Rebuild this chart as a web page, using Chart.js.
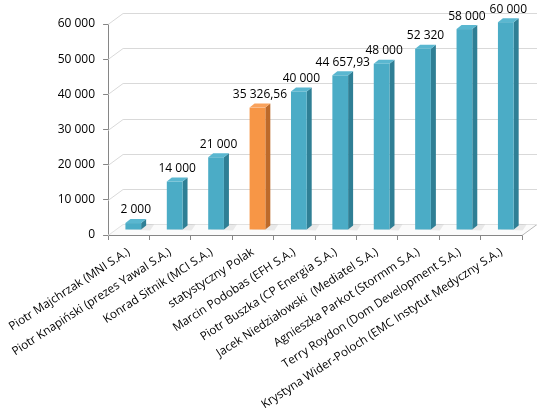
<!DOCTYPE html>
<html>
<head>
<meta charset="utf-8">
<script src="https://cdn.jsdelivr.net/npm/chart.js@4.4.1/dist/chart.umd.min.js"></script>
<style>
  html, body { margin: 0; padding: 0; background: #fff; }
</style>
</head>
<body>
<canvas id="myChart" width="542" height="416"></canvas>
<script>
var categories = [
    'Piotr Majchrzak (MNI S.A.)',
    'Piotr Knapiński (prezes Yawal S.A.)',
    'Konrad Sitnik (MCI S.A.)',
    'statystyczny Polak',
    'Marcin Podobas (EFH S.A.)',
    'Piotr Buszka (CP Energia S.A.)',
    'Jacek Niedziałowski  (Mediatel S.A.)',
    'Agnieszka Parkot (Stormm S.A.)',
    'Terry Roydon (Dom Development S.A.)',
    'Krystyna Wider-Poloch (EMC Instytut Medyczny S.A.)'
];
var salaries = [2000, 14000, 21000, 35326.56, 40000, 44657.93, 48000, 52320, 58000, 60000];
var highlighted = [false, false, false, true, false, false, false, false, false, false];
var yTicks = [0, 10000, 20000, 30000, 40000, 50000, 60000];

// polish style number: "35 326,56"
function fmt(v) {
    var parts = (Math.round(v * 100) / 100).toString().split('.');
    var intPart = parts[0].replace(/\B(?=(\d{3})+(?!\d))/g, ' ');
    return parts[1] ? intPart + ',' + (parts[1] + '0').slice(0, 2) : intPart;
}

var DEPTH_X = 15, DEPTH_Y = -11;   // back wall offset
var SHIFT_X = 4.5, SHIFT_Y = -5;   // bars stand mid-floor
var SIDE_X = 5, SIDE_Y = -4;       // bar depth

var blue = { front: '#4bacc6', side: '#2f7f95', top: '#5ab7d0' };
var orange = { front: '#f79646', side: '#bd6a2a', top: '#f9a25c' };

var wallPlugin = {
    id: 'wall',
    beforeDatasetsDraw: function (chart) {
        var ctx = chart.ctx, a = chart.chartArea, y = chart.scales.y;
        ctx.save();
        // floor
        ctx.beginPath();
        ctx.moveTo(a.left, a.bottom);
        ctx.lineTo(a.right, a.bottom);
        ctx.lineTo(a.right + DEPTH_X, a.bottom + DEPTH_Y);
        ctx.lineTo(a.left + DEPTH_X, a.bottom + DEPTH_Y);
        ctx.closePath();
        ctx.fillStyle = '#fbfbfb';
        ctx.fill();
        ctx.strokeStyle = '#b8b8b8';
        ctx.lineWidth = 1;
        ctx.beginPath();
        ctx.moveTo(a.right, a.bottom + 0.5);
        ctx.lineTo(a.right + DEPTH_X, a.bottom + DEPTH_Y + 0.5);
        ctx.stroke();
        // back wall grid lines
        yTicks.forEach(function (t) {
            var py = Math.round(y.getPixelForValue(t)) + 0.5;
            ctx.strokeStyle = t === 0 ? '#e2e2e2' : '#d9d9d9';
            ctx.beginPath();
            ctx.moveTo(a.left, py);
            ctx.lineTo(a.left + DEPTH_X, py + DEPTH_Y);
            ctx.lineTo(a.right + DEPTH_X, py + DEPTH_Y);
            ctx.stroke();
        });
        ctx.restore();
    }
};

var bars3dPlugin = {
    id: 'bars3d',
    afterDatasetsDraw: function (chart) {
        var ctx = chart.ctx;
        var meta = chart.getDatasetMeta(0);
        ctx.save();
        meta.data.forEach(function (bar, i) {
            var c = highlighted[i] ? orange : blue;
            var w = bar.width;
            var xl = bar.x - w / 2 + SHIFT_X, xr = bar.x + w / 2 + SHIFT_X;
            var base = bar.base + SHIFT_Y;
            var top = base - (bar.base - bar.y) * 0.985;

            // floor shadow
            ctx.fillStyle = 'rgba(0,0,0,0.07)';
            ctx.beginPath();
            ctx.moveTo(xl + 2, base);
            ctx.lineTo(xr + 9, base + 1);
            ctx.lineTo(xr + 13, base - 5);
            ctx.lineTo(xr + 4, base - 6);
            ctx.closePath();
            ctx.fill();

            // side
            ctx.fillStyle = c.side;
            ctx.beginPath();
            ctx.moveTo(xr, top);
            ctx.lineTo(xr + SIDE_X, top + SIDE_Y);
            ctx.lineTo(xr + SIDE_X, base + SIDE_Y);
            ctx.lineTo(xr, base);
            ctx.closePath();
            ctx.fill();

            // front
            ctx.fillStyle = c.front;
            ctx.fillRect(xl, top, w, base - top);

            // top
            ctx.fillStyle = c.top;
            ctx.beginPath();
            ctx.moveTo(xl, top);
            ctx.lineTo(xl + SIDE_X, top + SIDE_Y);
            ctx.lineTo(xr + SIDE_X, top + SIDE_Y);
            ctx.lineTo(xr, top);
            ctx.closePath();
            ctx.fill();

            // value label
            ctx.fillStyle = '#000';
            ctx.font = '12px "Open Sans"';
            ctx.textAlign = 'center';
            ctx.textBaseline = 'middle';
            ctx.fillText(fmt(salaries[i]), (xl + xr + SIDE_X) / 2, top - 13);
        });
        ctx.restore();
    }
};

var ctx = document.getElementById('myChart');
new Chart(ctx, {
    type: 'bar',
    data: {
        labels: categories,
        datasets: [{
            data: salaries,
            backgroundColor: 'rgba(0,0,0,0)',
            borderWidth: 0,
            categoryPercentage: 1,
            barPercentage: 0.38
        }]
    },
    options: {
        responsive: false,
        animation: false,
        devicePixelRatio: 1,
        layout: { padding: { top: 24, right: 20, left: 0, bottom: 0 } },
        plugins: {
            legend: { display: false },
            tooltip: { enabled: false }
        },
        scales: {
            x: {
                afterFit: function (s) { s.height = 181; },
                grid: { drawOnChartArea: false, tickLength: 5, color: '#868686' },
                border: { color: '#868686' },
                ticks: {
                    autoSkip: false,
                    minRotation: 33,
                    maxRotation: 33,
                    padding: 5,
                    color: '#000',
                    font: { family: 'Open Sans', size: 11.8 }
                }
            },
            y: {
                min: 0,
                max: 60000,
                afterFit: function (s) { s.width = 104; },
                afterBuildTicks: function (s) {
                    s.ticks = yTicks.map(function (v) { return { value: v }; });
                },
                grid: { drawOnChartArea: false, tickLength: 5, color: '#868686' },
                border: { color: '#868686' },
                ticks: {
                    padding: 8,
                    color: '#000',
                    font: { family: 'Open Sans', size: 12 },
                    callback: function (v) { return fmt(v); }
                }
            }
        }
    },
    plugins: [wallPlugin, bars3dPlugin]
});
</script>
</body>
</html>
